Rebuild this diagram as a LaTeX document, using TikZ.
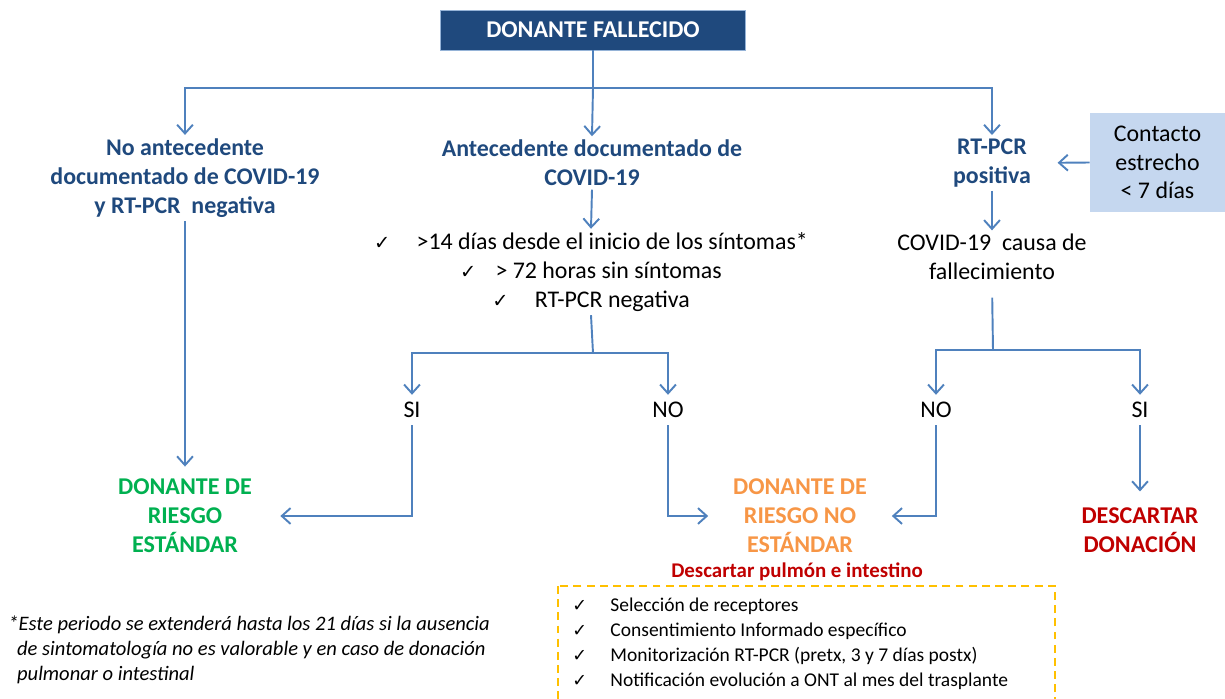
\documentclass[tikz,border=0pt]{standalone}
\usepackage{fontspec}
\setmainfont{Carlito}
\newfontfamily\dejavu{DejaVu Sans}
\usetikzlibrary{arrows.meta,calc}
\definecolor{arrowblue}{HTML}{4F81BD}
\definecolor{darkblue}{HTML}{1F497D}
\definecolor{stdgreen}{HTML}{00B050}
\definecolor{nsorange}{HTML}{F79646}
\definecolor{darkred}{HTML}{C00000}
\definecolor{lightbox}{HTML}{C5D7EF}
\definecolor{dashyellow}{HTML}{FFC000}
\newcommand{\ckm}{{\dejavu\fontsize{11}{11}\selectfont\symbol{"2713}}}
\newcommand{\ckms}{{\dejavu\fontsize{10}{10}\selectfont\symbol{"2713}}}
\begin{document}
\begin{tikzpicture}[x=0.02cm,y=-0.02cm,
  ln/.style={draw=arrowblue,line width=1.1pt},
  arr/.style={ln,-{Straight Barb[length=5pt,width=9pt,line width=1.1pt]}},
  big/.style={font=\fontsize{13.6}{16.4}\selectfont,align=center,inner sep=2pt},
  head/.style={big,font=\fontsize{13.6}{16.4}\selectfont\bfseries,text=darkblue},
  res/.style={big,font=\fontsize{13.7}{16.4}\selectfont\bfseries},
  small/.style={font=\fontsize{11.1}{14.2}\selectfont,align=left,inner sep=0pt}
]
\useasboundingbox (0,0) rectangle (1225,699);

% title
\node[fill=darkblue,draw=arrowblue!60,text=white,font=\fontsize{13.7}{15}\selectfont\bfseries,
  minimum width=6.1cm,minimum height=0.8cm,inner sep=0pt] (title) at (593,30) {DONANTE FALLECIDO};

% level 1
\node[head] (n1) at (185,178) {No antecedente\\documentado de COVID-19\\y RT-PCR\ \ negativa};
\node[head] (n2) at (592,163) {Antecedente documentado de\\COVID-19};
\node[head] (n3) at (992,163) {RT-PCR\\positiva};
\node[fill=lightbox,minimum width=2.7cm,minimum height=1.98cm,inner sep=0pt,
  font=\fontsize{13.6}{16.4}\selectfont,align=center] (contact) at (1157.5,162.5) {Contacto\\estrecho\\\textless\ 7 días};

% checklist
\node[big] (chk) at (591,272) {\ckm\hspace{1.1em}\textgreater14 días desde el inicio de los síntomas*\\
\ckm\hspace{0.8em}\textgreater\ 72 horas sin síntomas\\
\ckm\hspace{1.1em}RT-PCR negativa};

\node[big] (cf) at (992,257) {COVID-19\ \ causa de\\fallecimiento};

% SI / NO
\node[big,inner sep=4pt] (si1) at (412,410) {SI};
\node[big,inner sep=4pt] (no1) at (668,410) {NO};
\node[big,inner sep=4pt] (no2) at (936,410) {NO};
\node[big,inner sep=4pt] (si2) at (1140,410) {SI};

% results
\node[res,text=stdgreen] (green) at (185,516) {DONANTE DE\\RIESGO\\ESTÁNDAR};
\node[res,text=nsorange] (orange) at (800,516) {DONANTE DE\\RIESGO NO\\ESTÁNDAR};
\node[res,text=darkred] (red) at (1140,530) {DESCARTAR\\DONACIÓN};

\node[font=\fontsize{11.9}{13}\selectfont\bfseries,text=darkred,inner sep=0pt] (disc) at (797,572) {Descartar pulmón e intestino};

% dashed box
\draw[dashyellow,line width=0.9pt,dash pattern=on 4.5pt off 3pt] (558,586) rectangle (1055,720);
\node[small,anchor=west] (list) at (572,643.5) {\ckms\hspace{1.2em}Selección de receptores\\
\ckms\hspace{1.2em}Consentimiento Informado específico\\
\ckms\hspace{1.2em}Monitorización RT-PCR (pretx, 3 y 7 días postx)\\
\ckms\hspace{1.2em}Notificación evolución a ONT al mes del trasplante};

% footnote
\node[small,anchor=west,font=\fontsize{11.7}{14.2}\selectfont\itshape] (foot) at (8,650) {*Este periodo se extenderá hasta los 21 días si la ausencia\\
\hspace*{5pt}de sintomatología no es valorable y en caso de donación\\
\hspace*{5pt}pulmonar o intestinal};

% connectors
\coordinate (j0) at (593,88);
\draw[ln] (title.south) -- (j0);
\draw[arr] (j0) -| (n1.north);
\draw[arr] (j0) -- (n2.north);
\draw[arr] (j0) -| (n3.north);
\draw[arr,shorten >=13pt] (contact.west) -- (n3.east);

\draw[arr] (n2.south) -- (chk.north);
\coordinate (j1) at (593,353);
\draw[ln] (chk.south) -- (j1);
\draw[arr] (j1) -| (si1.north);
\draw[arr] (j1) -| (no1.north);

\draw[arr] (n3.south) -- (cf.north);
\coordinate (j2) at (993,350);
\draw[ln,shorten <=8pt] (cf.south) -- (j2);
\draw[arr] (j2) -| (no2.north);
\draw[arr] (j2) -| (si2.north);

\draw[arr,shorten >=5pt] (n1.south) -- (green.north);
\draw[arr,shorten >=14pt] (si1.south) |- (green.east);
\draw[arr,shorten >=12pt] (no1.south) |- (orange.west);
\draw[arr,shorten >=12pt] (no2.south) |- (orange.east);
\draw[arr,shorten >=7pt] (si2.south) -- (red.north);
\end{tikzpicture}
\end{document}
